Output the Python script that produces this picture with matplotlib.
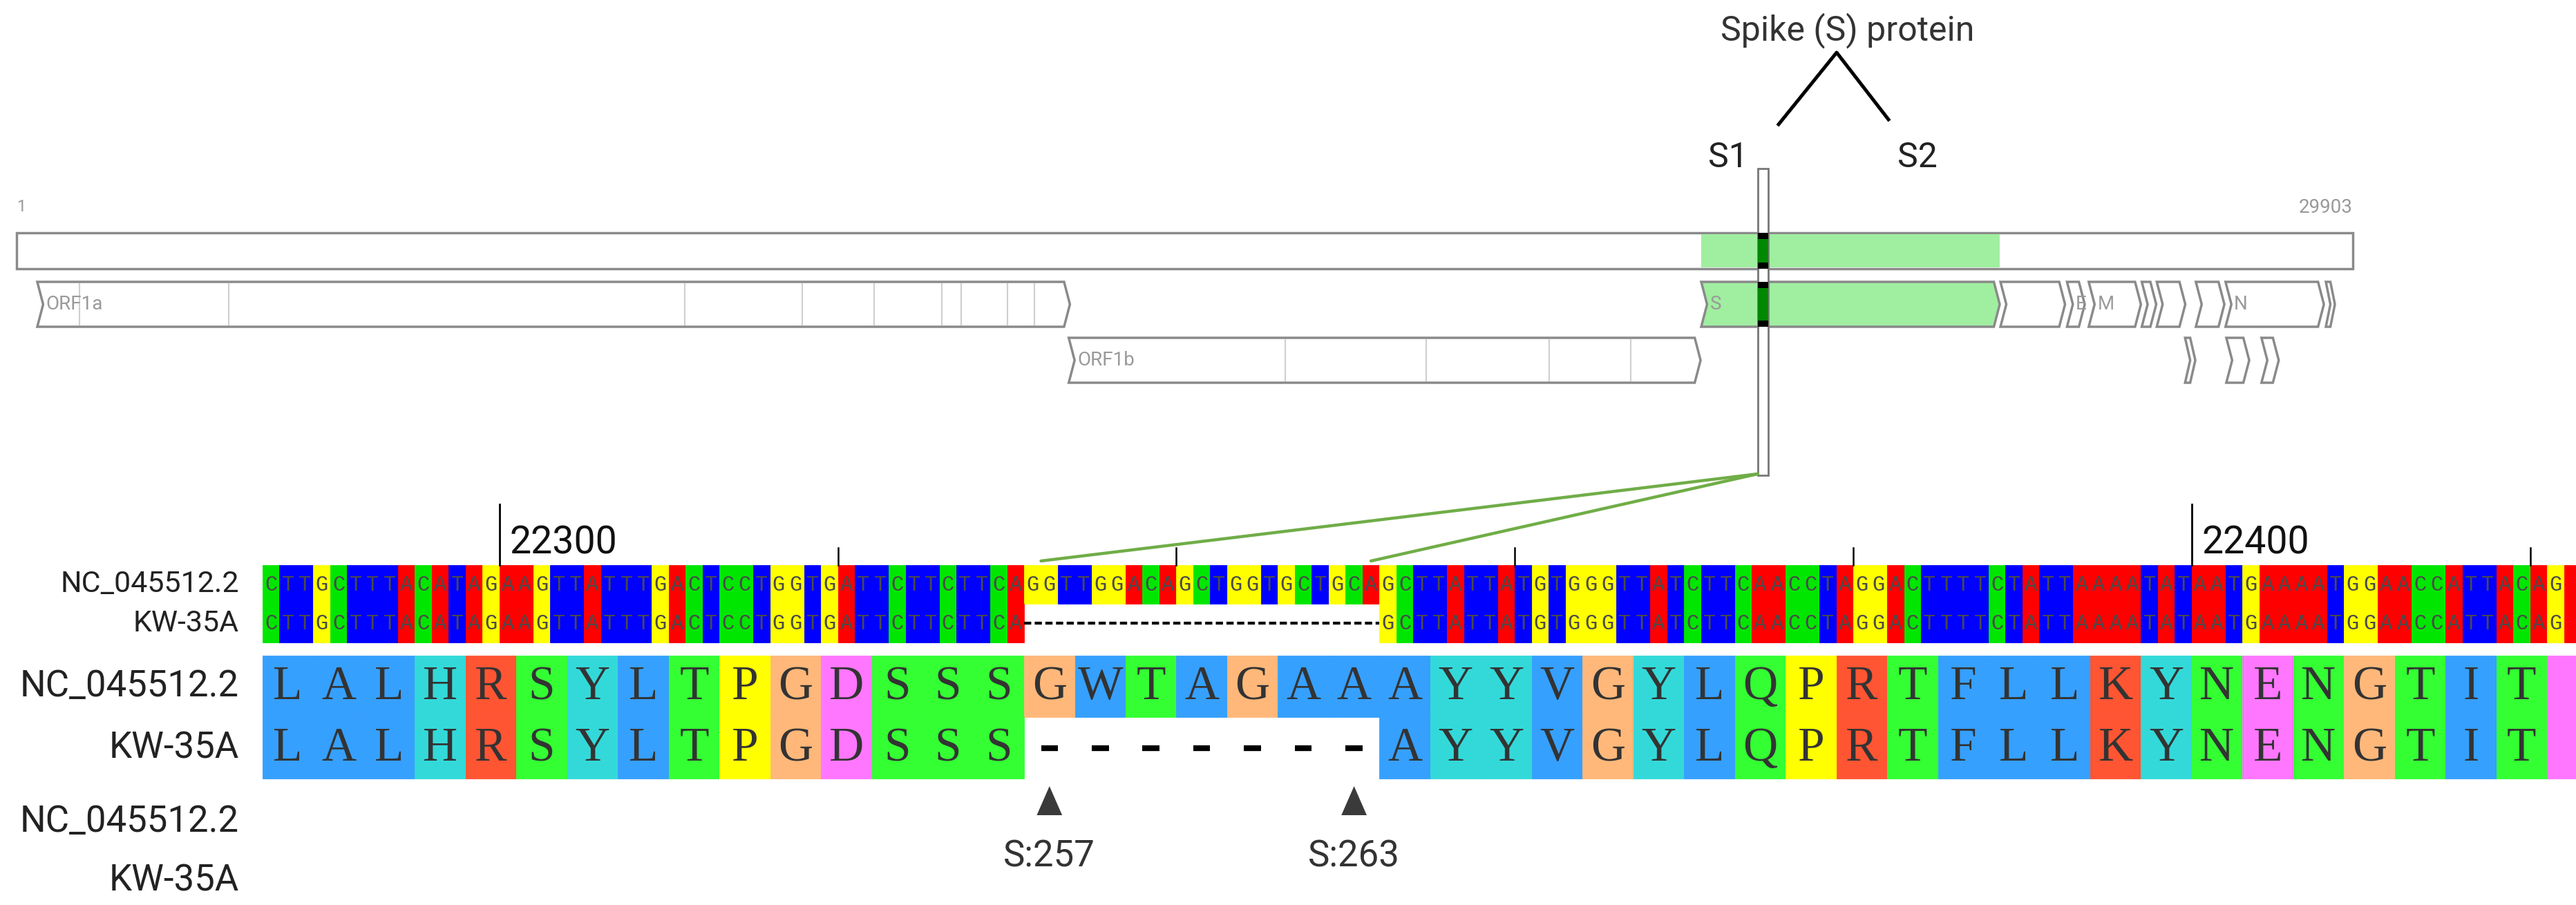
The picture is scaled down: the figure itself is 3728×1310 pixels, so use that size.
import matplotlib
matplotlib.use("Agg")
import matplotlib.pyplot as plt
from matplotlib.patches import Polygon, Rectangle, ConnectionPatch

# ---- genome map data (NC_045512.2) ----
GENOME_LEN = 29903
genes_row1 = [("ORF1a", 266, 13483), ("S", 21563, 25384), ("ORF3a", 25393, 26220),
              ("E", 26245, 26472), ("M", 26523, 27191), ("ORF6", 27202, 27387),
              ("ORF7a", 27394, 27759), ("ORF8", 27894, 28259), ("N", 28274, 29533),
              ("ORF10", 29558, 29674)]
genes_row2 = [("ORF1b", 13468, 21555), ("ORF7b", 27756, 27887),
              ("ORF9b", 28284, 28577), ("ORF9c", 28734, 28955)]
shown_labels = {"ORF1a", "ORF1b", "S", "E", "M", "N"}
orf1a_cuts = [806, 2720, 8555, 10055, 10973, 11843, 12092, 12686, 13025]
orf1b_cuts = [16237, 18040, 19621, 20659]
window = (22286, 22420)

# ---- alignment data ----
start_nt = 22286
nt_ref = ("CTTGCTTTACATAGAAGTTATTTGACTCCTGGTGATTCTTCTTCA"
          "GGTTGGACAGCTGGTGCTGCA"
          "GCTTATTATGTGGGTTATCTTCAA"
          "CCTAGGACTTTTCTATTAAAATATAATGAAAATGGAACCATTACAGATGCT")
nt_kw = nt_ref[:45] + "-" * 21 + nt_ref[66:]
aa_ref = "LALHRSYLTPGDSSSGWTAGAAAYYVGYLQPRTFLLKYNENGTITDA"
aa_kw = aa_ref[:15] + "-" * 7 + aa_ref[22:]
marked_aa = [257, 263]
aa_first = 242
major_ticks = [22300, 22400]
minor_ticks = [22320, 22340, 22360, 22380, 22420]
names = ["NC_045512.2", "KW-35A"]

nt_colors = {"A": "#ff0000", "C": "#00e600", "G": "#ffff00", "T": "#0000ff"}
aa_colors = {}
for k in "AILMFWV":
    aa_colors[k] = "#36a0fe"
for k in "KR":
    aa_colors[k] = "#ff5533"
for k in "ED":
    aa_colors[k] = "#ff77ff"
for k in "NQST":
    aa_colors[k] = "#33ff33"
for k in "HY":
    aa_colors[k] = "#33d9d9"
aa_colors["G"] = "#ffb87a"
aa_colors["P"] = "#ffff00"
aa_colors["C"] = "#ff9999"

W, H = 3728, 1310
G_X0, G_PX = 24, (3405 - 24) / (GENOME_LEN - 1)
A_X0, A_PX = 380, 24.49
SANS = ["Roboto", "DejaVu Sans"]

fig = plt.figure(figsize=(W / 100, H / 100), dpi=100)
ax_g = fig.add_axes([0, 0, 1, 1])
ax_g.set_xlim(1 - G_X0 / G_PX, 1 + (W - G_X0) / G_PX)
ax_g.set_ylim(H, 0)
ax_g.axis("off")
ax_a = fig.add_axes([0, 0, 1, 1])
x_right = start_nt + (W - A_X0) / A_PX
ax_a.set_xlim(start_nt - A_X0 / A_PX, x_right)
ax_a.set_ylim(H, 0)
ax_a.axis("off")
ax_a.patch.set_alpha(0)


def gx(px):
    return 1 + (px - G_X0) / G_PX


def gene_shape(x0, x1, y0, y1, face="white"):
    tip = min(75, (x1 - x0) / 2)
    ym = (y0 + y1) / 2
    pts = [(x0, y0), (x1 - tip, y0), (x1, ym), (x1 - tip, y1), (x0, y1), (x0 + tip, ym)]
    ax_g.add_patch(Polygon(pts, closed=True, facecolor=face, edgecolor="#8a8a8a",
                           lw=2.5, zorder=2))


# genome bar
BAR = (337, 389)
ROW1 = (408, 473)
ROW2 = (489, 554)
ax_g.add_patch(Rectangle((1, BAR[0]), GENOME_LEN - 1, BAR[1] - BAR[0],
                         facecolor="white", edgecolor="#8a8a8a", lw=2.5, zorder=2))
s_start, s_end = genes_row1[1][1], genes_row1[1][2]
ax_g.add_patch(Rectangle((s_start, BAR[0] + 2), s_end - s_start, BAR[1] - BAR[0] - 4,
                         facecolor="#a0eea0", lw=0, zorder=3))
ax_g.text(1, 300, "1", color="#999999", fontsize=17, family=SANS, ha="left", va="center")
ax_g.text(GENOME_LEN, 300, str(GENOME_LEN), color="#999999", fontsize=20, family=SANS,
          ha="right", va="center")

for row, (y0, y1) in ((genes_row1, ROW1), (genes_row2, ROW2)):
    for name, a, b in row:
        gene_shape(a, b, y0, y1, "#a0eea0" if name == "S" else "white")
        if name in shown_labels:
            ax_g.text(a + 110, (y0 + y1) / 2, name, color="#9a9a9a", fontsize=20,
                      family=SANS, ha="left", va="center", zorder=4)
for c in orf1a_cuts:
    ax_g.plot([c, c], [ROW1[0] + 3, ROW1[1] - 3], color="#cfcfcf", lw=1.5, zorder=3)
for c in orf1b_cuts:
    ax_g.plot([c, c], [ROW2[0] + 3, ROW2[1] - 3], color="#cfcfcf", lw=1.5, zorder=3)

# selection window
ax_g.add_patch(Rectangle((window[0], 244), window[1] - window[0], 688 - 244,
                         facecolor="white", edgecolor="#777777", lw=2, zorder=5))
for y0, y1 in (BAR, ROW1):
    ax_g.add_patch(Rectangle((window[0], y0), window[1] - window[0], y1 - y0,
                             facecolor="#008800", edgecolor="black", lw=0, zorder=6))
    ax_g.add_patch(Rectangle((window[0], y0), window[1] - window[0], 9,
                             facecolor="black", lw=0, zorder=6))
    ax_g.add_patch(Rectangle((window[0], y1 - 9), window[1] - window[0], 9,
                             facecolor="black", lw=0, zorder=6))

# spike annotation
ax_g.text(gx(2674), 44, "Spike (S) protein", fontsize=36, family=SANS, color="#333333",
          ha="center", va="center")
ax_g.plot([gx(2574), gx(2658), gx(2733)], [180, 76, 173], color="black", lw=3.6)
ax_g.text(gx(2472), 242, "S1", fontsize=36, family=SANS, color="#222222", ha="left",
          va="baseline")
ax_g.text(gx(2746), 242, "S2", fontsize=36, family=SANS, color="#222222", ha="left",
          va="baseline")

# ---- alignment ----
NT_ROWS = [(818, 874), (874, 930)]
AA_ROWS = [(949, 1038), (1038, 1127)]
label_x = start_nt - 34 / A_PX

for seq, (y0, y1), name in zip([nt_ref, nt_kw], NT_ROWS, names):
    xs = [start_nt + i for i, ch in enumerate(seq) if ch != "-"]
    cols = [nt_colors[ch] for ch in seq if ch != "-"]
    ax_a.bar(xs, y1 - y0, bottom=y0, width=1, align="edge", color=cols,
             edgecolor=cols, lw=0.6, zorder=2)
    for i, ch in enumerate(seq):
        if ch != "-" and start_nt + i + 0.8 < x_right:
            ax_a.text(start_nt + i + 0.5, (y0 + y1) / 2 + 1, ch, fontsize=22,
                      family="Liberation Mono", color="#4a4a4a", ha="center",
                      va="center", zorder=3)
    gaps = [start_nt + i for i, ch in enumerate(seq) if ch == "-"]
    if gaps:
        ax_a.plot([gaps[0], gaps[-1] + 1], [(y0 + y1) / 2, (y0 + y1) / 2],
                  color="black", lw=3, ls=(0, (2.5, 1.2)), zorder=3)
    ax_a.text(label_x, (y0 + y1) / 2, name, fontsize=31, family=SANS, color="#222222",
              ha="right", va="center")

for seq, (y0, y1), name in zip([aa_ref, aa_kw], AA_ROWS, names):
    xs = [start_nt + 3 * j for j, ch in enumerate(seq) if ch != "-"]
    cols = [aa_colors[ch] for ch in seq if ch != "-"]
    ax_a.bar(xs, y1 - y0, bottom=y0, width=3, align="edge", color=cols,
             edgecolor=cols, lw=0.6, zorder=2)
    for j, ch in enumerate(seq):
        xc = start_nt + 3 * j + 1.5
        if ch == "-":
            ax_a.plot([xc - 0.5, xc + 0.5], [(y0 + y1) / 2] * 2, color="black", lw=6,
                      solid_capstyle="butt", zorder=3)
        elif xc + 0.9 < x_right:
            ax_a.text(xc, (y0 + y1) / 2 + 2, ch, fontsize=50, family="Liberation Serif",
                      color="#333333", ha="center", va="center", zorder=3)
    ax_a.text(label_x, (y0 + y1) / 2, name, fontsize=38, family=SANS, color="#222222",
              ha="right", va="center")

for name, y in zip(names, [1190, 1275]):
    ax_a.text(label_x, y, name, fontsize=38, family=SANS, color="#222222",
              ha="right", va="center")

# position ticks
for t in major_ticks:
    ax_a.plot([t, t], [730, 818], color="black", lw=2, zorder=4)
    ax_a.text(t + 0.6, 802, str(t), fontsize=40, family=SANS, color="#111111",
              ha="left", va="baseline")
for t in minor_ticks:
    ax_a.plot([t, t], [793, 818], color="black", lw=1.8, zorder=4)

# deletion markers
for pos in marked_aa:
    xc = start_nt + 3 * (pos - aa_first) + 1.5
    ax_a.add_patch(Polygon([(xc - 0.75, 1180), (xc + 0.75, 1180), (xc, 1138)],
                           closed=True, facecolor="#3a3a3a", lw=0))
    ax_a.text(xc, 1240, f"S:{pos}", fontsize=38, family=SANS, color="#333333",
              ha="center", va="center")

# zoom lines from genome window to the deletion
gap_nt = [start_nt + i for i, ch in enumerate(nt_kw) if ch == "-"]
for xb in (gap_nt[0] + 1, gap_nt[-1] + 0.5):
    ax_a.add_artist(ConnectionPatch(xyA=(window[0], 686), coordsA=ax_g.transData,
                                    xyB=(xb, 812), coordsB=ax_a.transData,
                                    color="#70ad47", lw=3.2, zorder=1))

fig.savefig("out.png", dpi=100, facecolor="white")
